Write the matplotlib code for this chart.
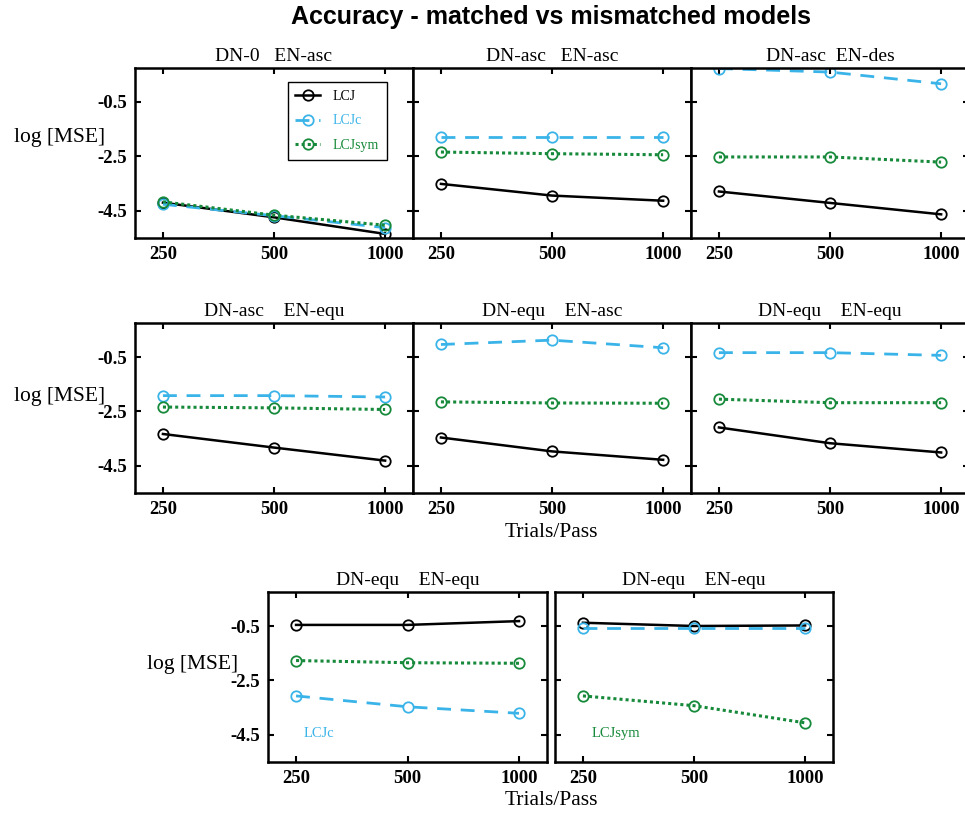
import matplotlib.pyplot as plt
from matplotlib.ticker import FixedLocator, FixedFormatter, NullLocator

plt.rcParams['font.family'] = ['Liberation Serif', 'DejaVu Serif']

trials = [250, 500, 1000]
trial_labels = ['250', '500', '1000']
ytick_vals = [-0.5, -2.5, -4.5]

titles = ['DN-0   EN-asc', 'DN-asc   EN-asc', 'DN-asc  EN-des',
          'DN-asc    EN-equ', 'DN-equ    EN-asc', 'DN-equ    EN-equ',
          'DN-equ    EN-equ', 'DN-equ    EN-equ']

# log[MSE] per panel (row 1, row 2, row 3)
lcj = [[-4.20, -4.74, -5.35], [-3.51, -3.94, -4.13], [-3.79, -4.21, -4.63],
       [-3.33, -3.83, -4.31], [-3.46, -3.97, -4.28], [-3.09, -3.67, -4.01],
       [-0.46, -0.46, -0.32], [-0.38, -0.50, -0.48]]
lcjc = [[-4.26, -4.68, -5.12], [-1.79, -1.79, -1.79], [0.73, 0.60, 0.17],
        [-1.92, -1.92, -1.97], [-0.04, 0.12, -0.16], [-0.34, -0.34, -0.44],
        [-3.07, -3.47, -3.71], [-0.59, -0.59, -0.59]]
lcjsym = [[-4.17, -4.66, -5.03], [-2.34, -2.40, -2.44], [-2.52, -2.52, -2.71],
          [-2.34, -2.37, -2.43], [-2.15, -2.19, -2.20], [-2.05, -2.18, -2.18],
          [-1.77, -1.85, -1.87], [-3.07, -3.43, -4.06]]

cyan = '#3ab4e8'
green = '#16893a'

W, H = 965, 813
fig = plt.figure(figsize=(W / 100, H / 100), dpi=100)


def box(left, top, w=278, h=170):
    return [left / W, (H - top - h) / H, w / W, h / H]


positions = [box(135, 68), box(413, 68), box(691, 68),
             box(135, 323), box(413, 323), box(691, 323),
             box(268, 592, w=279), box(555, 592)]
label_y = {0: 0.594, 3: 0.57, 6: 0.576}

axes = []
for i, pos in enumerate(positions):
    ax = fig.add_axes(pos)
    ax.plot(trials, lcj[i], color='black', lw=1.8, marker='o', ms=7.5,
            mfc='none', mew=1.3, label='LCJ')
    ax.plot(trials, lcjc[i], color=cyan, lw=2.0, ls=(0, (5, 3.5)), marker='o',
            ms=7.5, mfc='none', mew=1.3, label='LCJc')
    ax.plot(trials, lcjsym[i], color=green, lw=2.2, ls=(0, (1, 1)), marker='o',
            ms=7.5, mfc='none', mew=1.3, label='LCJsym')
    ax.set_xscale('log', base=2)
    ax.set_xlim(210, 1190)
    ax.set_ylim(-5.5, 0.75)
    ax.xaxis.set_major_locator(FixedLocator(trials))
    ax.xaxis.set_major_formatter(FixedFormatter(trial_labels))
    ax.xaxis.set_minor_locator(NullLocator())
    ax.set_yticks(ytick_vals)
    ax.set_yticklabels([str(v) for v in ytick_vals])
    ax.tick_params(direction='in', top=True, right=True, length=4, width=1.5,
                   pad=6, labelsize=13.5)
    for lab in ax.get_xticklabels() + ax.get_yticklabels():
        lab.set_fontweight('bold')
    for sp in ax.spines.values():
        sp.set_linewidth(1.8)
    ax.set_title(titles[i], fontsize=14, pad=5)
    if i in label_y:
        ax.set_ylabel('log [MSE]', rotation=0, fontsize=15.5, ha='right', va='center')
        ax.yaxis.set_label_coords(-0.108, label_y[i])
    else:
        ax.tick_params(labelleft=False)
    axes.append(ax)

leg = axes[0].legend(loc='upper right', bbox_to_anchor=(0.906, 0.918),
                     borderaxespad=0, fontsize=10, handlelength=1.8,
                     labelspacing=0.85, fancybox=False, edgecolor='black',
                     framealpha=1, borderpad=0.55, handletextpad=0.9)
leg.get_frame().set_linewidth(1.0)
for txt, col in zip(leg.get_texts(), ['black', cyan, green]):
    txt.set_color(col)

axes[6].text(0.129, 0.165, 'LCJc', color=cyan, fontsize=10.5,
             transform=axes[6].transAxes, va='center')
axes[7].text(0.133, 0.165, 'LCJsym', color=green, fontsize=10.5,
             transform=axes[7].transAxes, va='center')

fig.text(551 / W, 1 - 532 / H, 'Trials/Pass', ha='center', va='center', fontsize=15.5)
fig.text(551 / W, 1 - 800 / H, 'Trials/Pass', ha='center', va='center', fontsize=15.5)
fig.text(551 / W, 1 - 17 / H, 'Accuracy - matched vs mismatched models',
         ha='center', va='center', fontsize=18, fontweight='bold',
         family=['Liberation Sans Narrow', 'Liberation Sans', 'DejaVu Sans'])

fig.savefig('out.png', dpi=100)
